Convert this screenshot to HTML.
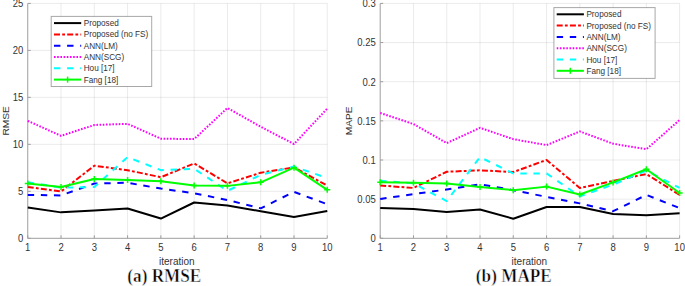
<!DOCTYPE html>
<html><head><meta charset="utf-8"><style>
html,body{margin:0;padding:0;background:#fff;}
body{width:685px;height:286px;overflow:hidden;}
svg{display:block;}
text{font-family:"Liberation Sans", sans-serif;font-size:10px;fill:#333333;}
</style></head><body>
<svg width="685" height="286" viewBox="0 0 685 286">
<rect width="685" height="286" fill="#fff"/>
<path d="M61.03 3.40V238.30M94.31 3.40V238.30M127.59 3.40V238.30M160.87 3.40V238.30M194.15 3.40V238.30M227.43 3.40V238.30M260.71 3.40V238.30M293.99 3.40V238.30M327.27 3.40V238.30M27.75 191.32H327.27M27.75 144.34H327.27M27.75 97.36H327.27M27.75 50.38H327.27M27.75 3.40H327.27" stroke="#262626" stroke-opacity="0.09" stroke-width="1" fill="none"/>
<path d="M27.75 3.40V238.30H327.27M27.75 238.30V235.30M61.03 238.30V235.30M94.31 238.30V235.30M127.59 238.30V235.30M160.87 238.30V235.30M194.15 238.30V235.30M227.43 238.30V235.30M260.71 238.30V235.30M293.99 238.30V235.30M327.27 238.30V235.30M27.75 238.30H30.75M27.75 191.32H30.75M27.75 144.34H30.75M27.75 97.36H30.75M27.75 50.38H30.75M27.75 3.40H30.75" stroke="#9e9e9e" stroke-width="1" fill="none"/>
<text transform="translate(27.75 251.4) scale(0.95 1)" text-anchor="middle">1</text>
<text transform="translate(61.03 251.4) scale(0.95 1)" text-anchor="middle">2</text>
<text transform="translate(94.31 251.4) scale(0.95 1)" text-anchor="middle">3</text>
<text transform="translate(127.59 251.4) scale(0.95 1)" text-anchor="middle">4</text>
<text transform="translate(160.87 251.4) scale(0.95 1)" text-anchor="middle">5</text>
<text transform="translate(194.15 251.4) scale(0.95 1)" text-anchor="middle">6</text>
<text transform="translate(227.43 251.4) scale(0.95 1)" text-anchor="middle">7</text>
<text transform="translate(260.71 251.4) scale(0.95 1)" text-anchor="middle">8</text>
<text transform="translate(293.99 251.4) scale(0.95 1)" text-anchor="middle">9</text>
<text transform="translate(327.27 251.4) scale(0.95 1)" text-anchor="middle">10</text>
<text transform="translate(23.35 242.10) scale(0.95 1)" text-anchor="end">0</text>
<text transform="translate(23.35 195.12) scale(0.95 1)" text-anchor="end">5</text>
<text transform="translate(23.35 148.14) scale(0.95 1)" text-anchor="end">10</text>
<text transform="translate(23.35 101.16) scale(0.95 1)" text-anchor="end">15</text>
<text transform="translate(23.35 54.18) scale(0.95 1)" text-anchor="end">20</text>
<text transform="translate(23.35 7.20) scale(0.95 1)" text-anchor="end">25</text>
<text x="176.80" y="265" text-anchor="middle">iteration</text>
<text transform="translate(8.70 120.85) rotate(-90) scale(1 0.9)" text-anchor="middle" style="font-size:10.2px">RMSE</text>
<polyline points="27.75,207.48 61.03,212.37 94.31,210.58 127.59,208.42 160.87,218.57 194.15,202.50 227.43,205.60 260.71,211.24 293.99,217.07 327.27,210.96" stroke="#000000" stroke-width="2.00" fill="none" stroke-linejoin="round"/>
<polyline points="27.75,186.90 61.03,191.51 94.31,165.67 127.59,170.18 160.87,177.23 194.15,163.41 227.43,183.33 260.71,172.72 293.99,167.36 327.27,185.68" stroke="#ff0000" stroke-width="2.00" fill="none" stroke-linejoin="round" stroke-dasharray="6 2.2 2.8 2.2"/>
<polyline points="27.75,194.89 61.03,195.45 94.31,183.52 127.59,182.77 160.87,188.60 194.15,193.29 227.43,200.06 260.71,208.33 293.99,191.88 327.27,204.19" stroke="#0000ff" stroke-width="2.00" fill="none" stroke-linejoin="round" stroke-dasharray="6.4 6.7"/>
<polyline points="27.75,120.85 61.03,135.88 94.31,124.98 127.59,123.86 160.87,138.70 194.15,139.08 227.43,107.98 260.71,126.77 293.99,144.06 327.27,108.54" stroke="#ff00ff" stroke-width="2.00" fill="none" stroke-linejoin="round" stroke-dasharray="1.6 1.6"/>
<polyline points="27.75,182.30 61.03,187.56 94.31,187.09 127.59,157.12 160.87,170.18 194.15,168.77 227.43,190.85 260.71,174.88 293.99,166.51 327.27,178.17" stroke="#00ffff" stroke-width="2.00" fill="none" stroke-linejoin="round" stroke-dasharray="6.4 6.7"/>
<polyline points="27.75,183.43 61.03,187.09 94.31,178.92 127.59,179.95 160.87,181.36 194.15,185.49 227.43,185.87 260.71,182.30 293.99,167.64 327.27,189.82" stroke="#00ff00" stroke-width="2.00" fill="none" stroke-linejoin="round"/>
<path d="M24.75 183.43h6M27.75 180.43v6M58.03 187.09h6M61.03 184.09v6M91.31 178.92h6M94.31 175.92v6M124.59 179.95h6M127.59 176.95v6M157.87 181.36h6M160.87 178.36v6M191.15 185.49h6M194.15 182.49v6M224.43 185.87h6M227.43 182.87v6M257.71 182.30h6M260.71 179.30v6M290.99 167.64h6M293.99 164.64v6M324.27 189.82h6M327.27 186.82v6" stroke="#00ff00" stroke-width="1.5" fill="none"/>
<rect x="51.20" y="16.40" width="100.50" height="70.10" fill="#fff" stroke="#262626" stroke-opacity="0.4" stroke-width="1"/>
<line x1="54.00" y1="23.10" x2="81.20" y2="23.10" stroke="#000000" stroke-width="2.00"/>
<text x="83.70" y="26.10" style="font-size:8.2px">Proposed</text>
<line x1="54.00" y1="34.40" x2="81.20" y2="34.40" stroke="#ff0000" stroke-width="2.00" stroke-dasharray="6 2.2 2.8 2.2"/>
<text x="83.70" y="37.40" style="font-size:8.2px">Proposed (no FS)</text>
<line x1="54.00" y1="45.70" x2="81.20" y2="45.70" stroke="#0000ff" stroke-width="2.00" stroke-dasharray="6.4 6.7"/>
<text x="83.70" y="48.70" style="font-size:8.2px">ANN(LM)</text>
<line x1="54.00" y1="57.00" x2="81.20" y2="57.00" stroke="#ff00ff" stroke-width="2.00" stroke-dasharray="1.6 1.6"/>
<text x="83.70" y="60.00" style="font-size:8.2px">ANN(SCG)</text>
<line x1="54.00" y1="68.30" x2="81.20" y2="68.30" stroke="#00ffff" stroke-width="2.00" stroke-dasharray="6.4 6.7"/>
<text x="83.70" y="71.30" style="font-size:8.2px">Hou [17]</text>
<line x1="54.00" y1="79.60" x2="81.20" y2="79.60" stroke="#00ff00" stroke-width="2.00"/>
<path d="M67.60 76.60v6" stroke="#00ff00" stroke-width="1.5"/>
<text x="83.70" y="82.60" style="font-size:8.2px">Fang [18]</text>
<text transform="translate(164.30 281.6) scale(1 1.04)" text-anchor="middle" style="font-family:'Liberation Serif', serif;font-weight:bold;font-size:17.2px;fill:#000;stroke:#fff;stroke-width:0.45px">(a) RMSE</text>
<path d="M413.47 3.40V238.30M446.74 3.40V238.30M480.01 3.40V238.30M513.28 3.40V238.30M546.55 3.40V238.30M579.82 3.40V238.30M613.09 3.40V238.30M646.36 3.40V238.30M679.63 3.40V238.30M380.20 199.15H679.63M380.20 160.00H679.63M380.20 120.85H679.63M380.20 81.70H679.63M380.20 42.55H679.63M380.20 3.40H679.63" stroke="#262626" stroke-opacity="0.09" stroke-width="1" fill="none"/>
<path d="M380.20 3.40V238.30H679.63M380.20 238.30V235.30M413.47 238.30V235.30M446.74 238.30V235.30M480.01 238.30V235.30M513.28 238.30V235.30M546.55 238.30V235.30M579.82 238.30V235.30M613.09 238.30V235.30M646.36 238.30V235.30M679.63 238.30V235.30M380.20 238.30H383.20M380.20 199.15H383.20M380.20 160.00H383.20M380.20 120.85H383.20M380.20 81.70H383.20M380.20 42.55H383.20M380.20 3.40H383.20" stroke="#9e9e9e" stroke-width="1" fill="none"/>
<text transform="translate(380.20 251.4) scale(0.95 1)" text-anchor="middle">1</text>
<text transform="translate(413.47 251.4) scale(0.95 1)" text-anchor="middle">2</text>
<text transform="translate(446.74 251.4) scale(0.95 1)" text-anchor="middle">3</text>
<text transform="translate(480.01 251.4) scale(0.95 1)" text-anchor="middle">4</text>
<text transform="translate(513.28 251.4) scale(0.95 1)" text-anchor="middle">5</text>
<text transform="translate(546.55 251.4) scale(0.95 1)" text-anchor="middle">6</text>
<text transform="translate(579.82 251.4) scale(0.95 1)" text-anchor="middle">7</text>
<text transform="translate(613.09 251.4) scale(0.95 1)" text-anchor="middle">8</text>
<text transform="translate(646.36 251.4) scale(0.95 1)" text-anchor="middle">9</text>
<text transform="translate(679.63 251.4) scale(0.95 1)" text-anchor="middle">10</text>
<text transform="translate(375.80 242.10) scale(0.95 1)" text-anchor="end">0</text>
<text transform="translate(375.80 202.95) scale(0.95 1)" text-anchor="end">0.05</text>
<text transform="translate(375.80 163.80) scale(0.95 1)" text-anchor="end">0.1</text>
<text transform="translate(375.80 124.65) scale(0.95 1)" text-anchor="end">0.15</text>
<text transform="translate(375.80 85.50) scale(0.95 1)" text-anchor="end">0.2</text>
<text transform="translate(375.80 46.35) scale(0.95 1)" text-anchor="end">0.25</text>
<text transform="translate(375.80 7.20) scale(0.95 1)" text-anchor="end">0.3</text>
<text x="529.40" y="265" text-anchor="middle">iteration</text>
<text transform="translate(351.80 120.85) rotate(-90) scale(1 0.9)" text-anchor="middle" style="font-size:10.2px">MAPE</text>
<polyline points="380.20,208.08 413.47,208.94 446.74,211.99 480.01,209.49 513.28,218.73 546.55,206.98 579.82,206.98 613.09,213.95 646.36,215.36 679.63,213.17" stroke="#000000" stroke-width="2.00" fill="none" stroke-linejoin="round"/>
<polyline points="380.20,185.45 413.47,187.95 446.74,171.75 480.01,170.34 513.28,172.06 546.55,159.92 579.82,187.95 613.09,180.98 646.36,174.02 679.63,194.92" stroke="#ff0000" stroke-width="2.00" fill="none" stroke-linejoin="round" stroke-dasharray="6 2.2 2.8 2.2"/>
<polyline points="380.20,198.92 413.47,194.14 446.74,189.44 480.01,184.27 513.28,190.15 546.55,196.88 579.82,203.38 613.09,211.21 646.36,194.92 679.63,208.08" stroke="#0000ff" stroke-width="2.00" fill="none" stroke-linejoin="round" stroke-dasharray="6.4 6.7"/>
<polyline points="380.20,112.94 413.47,124.06 446.74,143.09 480.01,127.82 513.28,139.17 546.55,145.12 579.82,131.42 613.09,143.71 646.36,149.27 679.63,119.91" stroke="#ff00ff" stroke-width="2.00" fill="none" stroke-linejoin="round" stroke-dasharray="1.6 1.6"/>
<polyline points="380.20,180.67 413.47,183.33 446.74,201.03 480.01,157.10 513.28,173.47 546.55,173.39 579.82,196.33 613.09,184.59 646.36,170.65 679.63,187.95" stroke="#00ffff" stroke-width="2.00" fill="none" stroke-linejoin="round" stroke-dasharray="6.4 6.7"/>
<polyline points="380.20,182.24 413.47,182.79 446.74,183.49 480.01,187.09 513.28,190.15 546.55,186.62 579.82,194.45 613.09,182.39 646.36,169.24 679.63,192.96" stroke="#00ff00" stroke-width="2.00" fill="none" stroke-linejoin="round"/>
<path d="M377.20 182.24h6M380.20 179.24v6M410.47 182.79h6M413.47 179.79v6M443.74 183.49h6M446.74 180.49v6M477.01 187.09h6M480.01 184.09v6M510.28 190.15h6M513.28 187.15v6M543.55 186.62h6M546.55 183.62v6M576.82 194.45h6M579.82 191.45v6M610.09 182.39h6M613.09 179.39v6M643.36 169.24h6M646.36 166.24v6M676.63 192.96h6M679.63 189.96v6" stroke="#00ff00" stroke-width="1.5" fill="none"/>
<rect x="553.90" y="7.60" width="101.20" height="70.80" fill="#fff" stroke="#262626" stroke-opacity="0.4" stroke-width="1"/>
<line x1="556.70" y1="14.30" x2="583.90" y2="14.30" stroke="#000000" stroke-width="2.00"/>
<text x="586.40" y="17.30" style="font-size:8.2px">Proposed</text>
<line x1="556.70" y1="25.60" x2="583.90" y2="25.60" stroke="#ff0000" stroke-width="2.00" stroke-dasharray="6 2.2 2.8 2.2"/>
<text x="586.40" y="28.60" style="font-size:8.2px">Proposed (no FS)</text>
<line x1="556.70" y1="36.90" x2="583.90" y2="36.90" stroke="#0000ff" stroke-width="2.00" stroke-dasharray="6.4 6.7"/>
<text x="586.40" y="39.90" style="font-size:8.2px">ANN(LM)</text>
<line x1="556.70" y1="48.20" x2="583.90" y2="48.20" stroke="#ff00ff" stroke-width="2.00" stroke-dasharray="1.6 1.6"/>
<text x="586.40" y="51.20" style="font-size:8.2px">ANN(SCG)</text>
<line x1="556.70" y1="59.50" x2="583.90" y2="59.50" stroke="#00ffff" stroke-width="2.00" stroke-dasharray="6.4 6.7"/>
<text x="586.40" y="62.50" style="font-size:8.2px">Hou [17]</text>
<line x1="556.70" y1="70.80" x2="583.90" y2="70.80" stroke="#00ff00" stroke-width="2.00"/>
<path d="M570.30 67.80v6" stroke="#00ff00" stroke-width="1.5"/>
<text x="586.40" y="73.80" style="font-size:8.2px">Fang [18]</text>
<text transform="translate(513.80 281.6) scale(1 1.04)" text-anchor="middle" style="font-family:'Liberation Serif', serif;font-weight:bold;font-size:17.2px;fill:#000;stroke:#fff;stroke-width:0.45px">(b) MAPE</text>
</svg>
</body></html>
